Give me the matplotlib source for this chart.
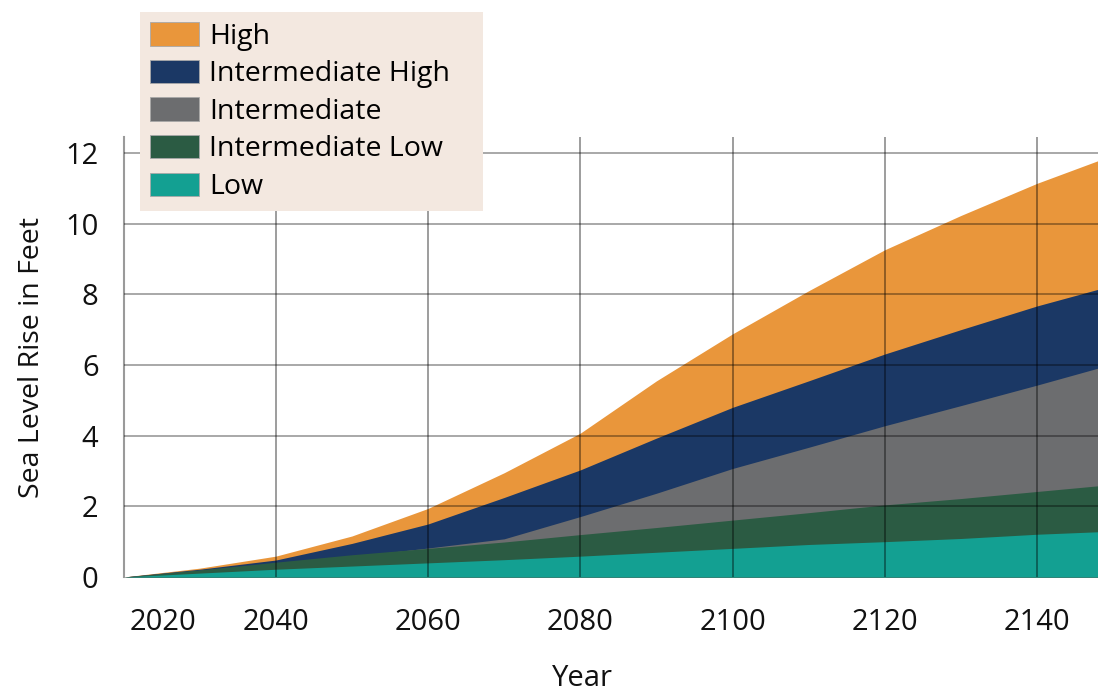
import matplotlib.pyplot as plt
from matplotlib.patches import Patch

plt.rcParams['font.family'] = ['Open Sans', 'DejaVu Sans']

# years (last column is the right edge)
years = [2020, 2030, 2040, 2050, 2060, 2070, 2080, 2090, 2100, 2110, 2120, 2130, 2140, 2148]

# sea level rise in feet for each scenario
high = [0, 0.25, 0.59, 1.16, 1.94, 2.95, 4.07, 5.55, 6.88, 8.10, 9.26, 10.23, 11.14, 11.78]
int_high = [0, 0.22, 0.48, 0.95, 1.50, 2.25, 3.03, 3.93, 4.80, 5.55, 6.31, 7.00, 7.67, 8.14]
intermediate = [0, 0.19, 0.38, 0.58, 0.82, 1.08, 1.71, 2.37, 3.07, 3.67, 4.28, 4.85, 5.43, 5.91]
int_low = [0, 0.20, 0.42, 0.63, 0.81, 0.99, 1.20, 1.40, 1.61, 1.82, 2.04, 2.22, 2.42, 2.58]
low = [0, 0.11, 0.22, 0.31, 0.40, 0.49, 0.59, 0.70, 0.81, 0.92, 1.00, 1.09, 1.21, 1.28]

labels = ['High', 'Intermediate High', 'Intermediate', 'Intermediate Low', 'Low']
colors = ['#E9963B', '#1B3865', '#6C6D6F', '#2B5B43', '#13A092']
series = [high, int_high, intermediate, int_low, low]

grid_years = [2040, 2060, 2080, 2100, 2120, 2140]
y_ticks = [0, 2, 4, 6, 8, 10, 12]
# the "2020" label sits off the grid in the original
x_tick_pos = [2025.2] + grid_years
x_tick_labels = ['2020'] + [str(y) for y in grid_years]

fig = plt.figure(figsize=(10.98, 6.91), dpi=100)
ax = fig.add_axes([123.5 / 1098, 1 - 577 / 691, 1 - 123.5 / 1098, (577 - 137) / 691])

# overlapping areas, highest scenario at the back
for vals, col in zip(series, colors):
    ax.fill_between(years, 0, vals, color=col, lw=0, zorder=1)

# grid drawn on top of the fills
for gx in grid_years:
    ax.axvline(gx, color='black', alpha=0.45, lw=1.2, zorder=3)
for gy in y_ticks[1:]:
    ax.axhline(gy, color='black', alpha=0.4, lw=1.2, zorder=3)

ax.set_xlim(2020, 2148)
ax.set_ylim(0, 12.45)

ax.set_xticks(x_tick_pos)
ax.set_xticklabels(x_tick_labels)
ax.set_yticks(y_ticks)
ax.tick_params(axis='both', length=0, labelsize=21, colors='#111111')
ax.tick_params(axis='x', pad=22)
ax.tick_params(axis='y', pad=18)

for side in ['top', 'right', 'bottom']:
    ax.spines[side].set_visible(False)
ax.spines['left'].set_color('#9a9a9a')
ax.spines['left'].set_linewidth(1.5)

ax.set_ylabel('Sea Level Rise in Feet', fontsize=20.5, color='#111111', labelpad=14)
fig.text(582 / 1098, 1 - 678 / 691, 'Year', fontsize=21, color='#111111',
         ha='center', va='center')

handles = [Patch(facecolor=c, edgecolor='#a8a8a8', lw=0.6) for c in colors]
leg = fig.legend(handles, labels, loc='upper left', mode='expand',
                 bbox_to_anchor=(140 / 1098, 1 - 211 / 691, 343 / 1098, 199 / 691),
                 fontsize=20.5, frameon=True, fancybox=False,
                 facecolor='#F3E8E0', edgecolor='none', framealpha=1,
                 handlelength=1.72, handleheight=0.88, handletextpad=0.35,
                 labelspacing=0.32, borderpad=0.36, borderaxespad=0)

fig.savefig('out.png', dpi=100)
